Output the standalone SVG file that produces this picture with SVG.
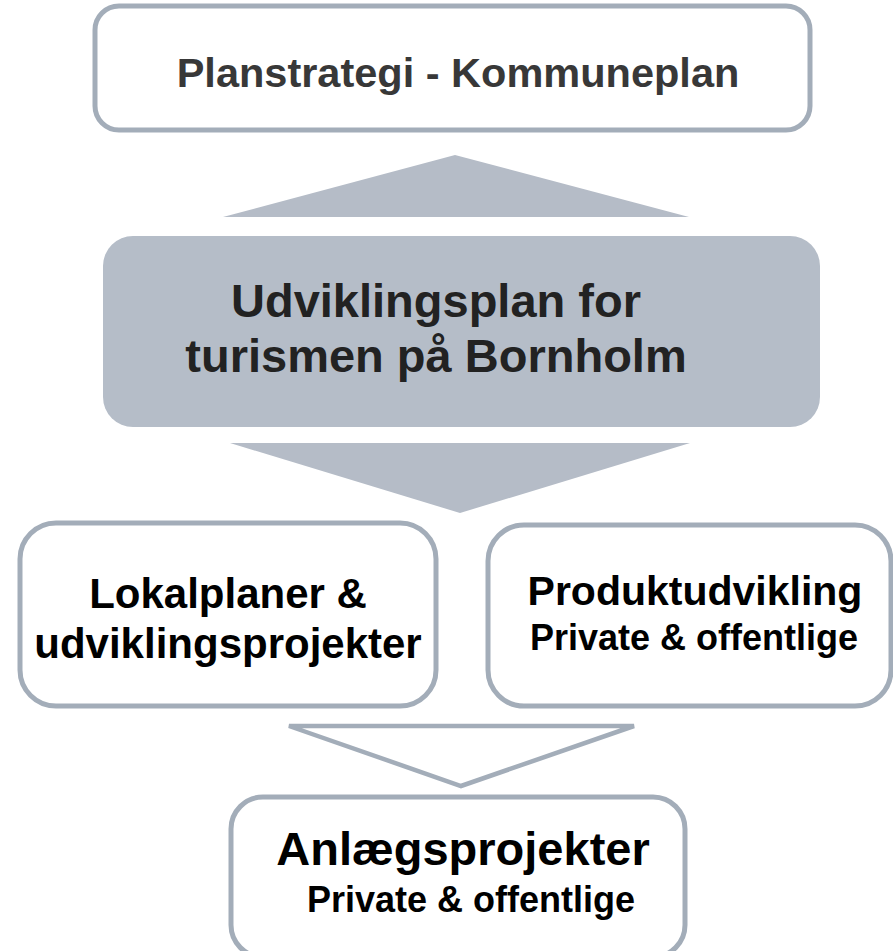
<svg xmlns="http://www.w3.org/2000/svg" width="893" height="951" viewBox="0 0 893 951">
<style>
.box{fill:#ffffff;stroke:#a3adb9;stroke-width:5}
.main{fill:#b5bdc8;stroke:none}
.t{font-family:"Liberation Sans",Arial,sans-serif;font-weight:bold;text-anchor:middle;fill:#000}
</style>
<rect width="893" height="951" fill="#ffffff"/>
<g id="connectors">
<polygon points="455,155 689,217 223,217" fill="#b5bcc7"/>
<polygon points="230,443 690,443 460,513" fill="#b5bcc7"/>
<polygon points="289,726 634,726 461,786" fill="#ffffff" stroke="#a3adb9" stroke-width="4.5" stroke-linejoin="miter"/>
</g>
<g id="n1">
<rect class="box" x="95" y="6" width="715" height="124" rx="24"/>
<text class="t" x="458" y="87" font-size="41.5" style="fill:#383838">Planstrategi - Kommuneplan</text>
</g>
<g id="n2">
<rect class="main" x="103" y="236" width="717" height="191" rx="30"/>
<text class="t" x="436" y="317" font-size="47" style="fill:#222">Udviklingsplan for</text>
<text class="t" x="436" y="372" font-size="47" style="fill:#222">turismen på Bornholm</text>
</g>
<g id="n3">
<rect class="box" x="20" y="523" width="416" height="183" rx="36"/>
<text class="t" x="228" y="608" font-size="42">Lokalplaner &amp;</text>
<text class="t" x="228" y="658" font-size="42">udviklingsprojekter</text>
</g>
<g id="n4">
<rect class="box" x="488" y="525" width="403" height="181" rx="36"/>
<text class="t" x="695" y="605" font-size="41">Produktudvikling</text>
<text class="t" x="694" y="650" font-size="36">Private &amp; offentlige</text>
</g>
<g id="n5">
<rect class="box" x="231" y="797" width="454" height="160" rx="32"/>
<text class="t" x="463" y="865" font-size="47">Anlægsprojekter</text>
<text class="t" x="471" y="912" font-size="36">Private &amp; offentlige</text>
</g>
</svg>
